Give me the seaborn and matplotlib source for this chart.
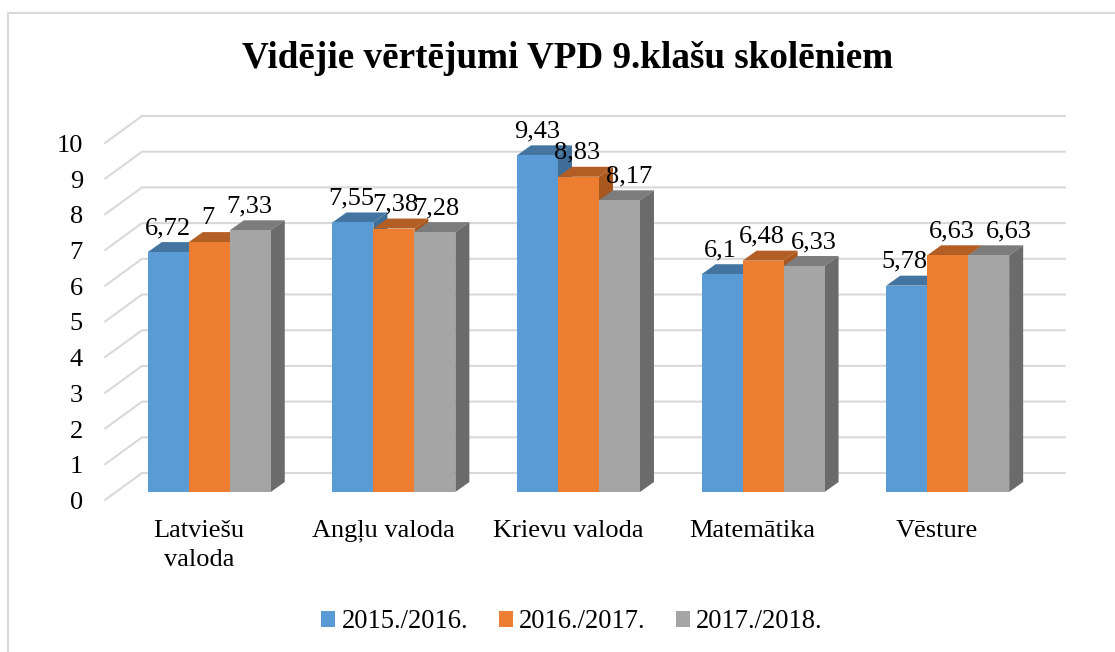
import matplotlib
matplotlib.use("Agg")
import matplotlib.pyplot as plt
import matplotlib.patches as mpatches
from matplotlib.lines import Line2D
from matplotlib.transforms import IdentityTransform, ScaledTranslation
import pandas as pd
import seaborn as sns

categories = ["Latviešu\nvaloda", "Angļu valoda", "Krievu valoda", "Matemātika", "Vēsture"]
series_names = ["2015./2016.", "2016./2017.", "2017./2018."]
values_2015 = [6.72, 7.55, 9.43, 6.10, 5.78]
values_2016 = [7.00, 7.38, 8.83, 6.48, 6.63]
values_2017 = [7.33, 7.28, 8.17, 6.33, 6.63]
label_2015 = ["6,72", "7,55", "9,43", "6,1", "5,78"]
label_2016 = ["7", "7,38", "8,83", "6,48", "6,63"]
label_2017 = ["7,33", "7,28", "8,17", "6,33", "6,63"]
yticks = list(range(0, 11))

front = ["#5B9BD5", "#ED7D31", "#A5A5A5"]
top = ["#4475A0", "#B25E25", "#7C7C7C"]
side = ["#3F6E98", "#A8581F", "#6B6B6B"]
GRID = "#D9D9D9"
W, H = 1115, 652

# horizontal nudges of the value labels, in pixels
nudge = [[0, -2, 0, -2, -2], [-1, 1, -1, -1, 4], [-1, 1, 10, 10, 20]]

df = pd.DataFrame({
    "cat": categories * 3,
    "period": sum([[s] * 5 for s in series_names], []),
    "value": values_2015 + values_2016 + values_2017,
})

sns.set_style("white")
plt.rcParams["font.family"] = ["Liberation Serif", "DejaVu Serif"]
fig = plt.figure(figsize=(W / 100, H / 100), dpi=100, facecolor="white")
ax = fig.add_axes([117 / W, (H - 492) / H, 923 / W, 357 / H])
sns.barplot(data=df, x="cat", y="value", hue="period", order=categories,
            hue_order=series_names, palette=front, width=0.666, gap=0,
            saturation=1, errorbar=None, legend=False, ax=ax, zorder=3, linewidth=0)
ax.set_xlim(-0.5, 4.5)
ax.set_ylim(0, 10)
ax.set_xlabel("")
ax.set_ylabel("")
for s in ax.spines.values():
    s.set_visible(False)
ax.patch.set_visible(False)
fig.canvas.draw()

px = IdentityTransform()
# grid on the back wall, with the diagonal on the side wall
for t in yticks:
    x0, y0 = ax.transData.transform((-0.5, t))
    x1, _ = ax.transData.transform((4.5, t))
    fig.add_artist(Line2D([x0 - 12, x0 + 25, x1 + 25], [y0 - 8, y0 + 19, y0 + 19],
                          transform=px, color=GRID, lw=1.5, zorder=0))

# depth faces of the bars, built from the bars seaborn drew
DX, DY = 14, 10
bars = sorted([p for p in ax.patches if p.get_height() > 0], key=lambda p: p.get_x())
for i, b in enumerate(bars):
    (xa, ya), (xb, yb) = ax.transData.transform(
        [(b.get_x(), 0), (b.get_x() + b.get_width(), b.get_height())])
    k = front.index(matplotlib.colors.to_hex(b.get_facecolor()).upper())
    z = 3 + i * 0.01
    b.set_zorder(z + 0.005)
    b.set_clip_on(False)
    ax.add_patch(mpatches.Polygon([(xa, yb), (xa + DX, yb + DY), (xb + DX, yb + DY), (xb, yb)],
                                  transform=px, fc=top[k], ec="none", zorder=z, clip_on=False))
    ax.add_patch(mpatches.Polygon([(xb, ya), (xb + DX, ya + DY), (xb + DX, yb + DY), (xb, yb)],
                                  transform=px, fc=side[k], ec="none", zorder=z, clip_on=False))

# value labels
labels = [label_2015, label_2016, label_2017]
vals = [values_2015, values_2016, values_2017]
for k in range(3):
    for i in range(5):
        xpos = i + (k - 1) * 0.222
        ax.annotate(labels[k][i], (xpos, vals[k][i]), xytext=(nudge[k][i], 18),
                    textcoords="offset pixels", ha="center", va="baseline", fontsize=19,
                    color="#000000", zorder=10, annotation_clip=False)

# ticks
ax.set_yticks(yticks)
ax.set_yticklabels([str(t) for t in yticks])
ax.tick_params(axis="both", length=0, colors="#000000")
ax.tick_params(axis="y", pad=24.5, labelsize=19)
ax.tick_params(axis="x", pad=20, labelsize=19)
for lab in ax.get_yticklabels():
    lab.set_transform(lab.get_transform() + ScaledTranslation(0, -8.5 / 100, fig.dpi_scale_trans))
for lab in ax.get_xticklabels():
    lab.set_transform(lab.get_transform() + ScaledTranslation(-10.5 / 100, 0, fig.dpi_scale_trans))
    lab.set_linespacing(1.42)

fig.text(568 / W, 1 - 59 / H, "Vidējie vērtējumi VPD 9.klašu skolēniem", ha="center", va="center",
         fontsize=26.7, fontweight="bold", color="#000000")

handles = [mpatches.Patch(fc=c, ec="none", label=s) for c, s in zip(front, series_names)]
fig.legend(handles=handles, loc="center", bbox_to_anchor=(572 / W, 1 - 622 / H), ncol=3, frameon=False,
           fontsize=19.1, handlelength=0.53, handleheight=0.53, handletextpad=0.23,
           columnspacing=1.15, labelcolor="#000000")

# chart frame: only the top and left edges show in the crop
fig.add_artist(Line2D([8, 8, W], [0, H - 13, H - 13], transform=px, color=GRID, lw=1.5, zorder=0))
fig.savefig("out.png", dpi=100, facecolor="white")
